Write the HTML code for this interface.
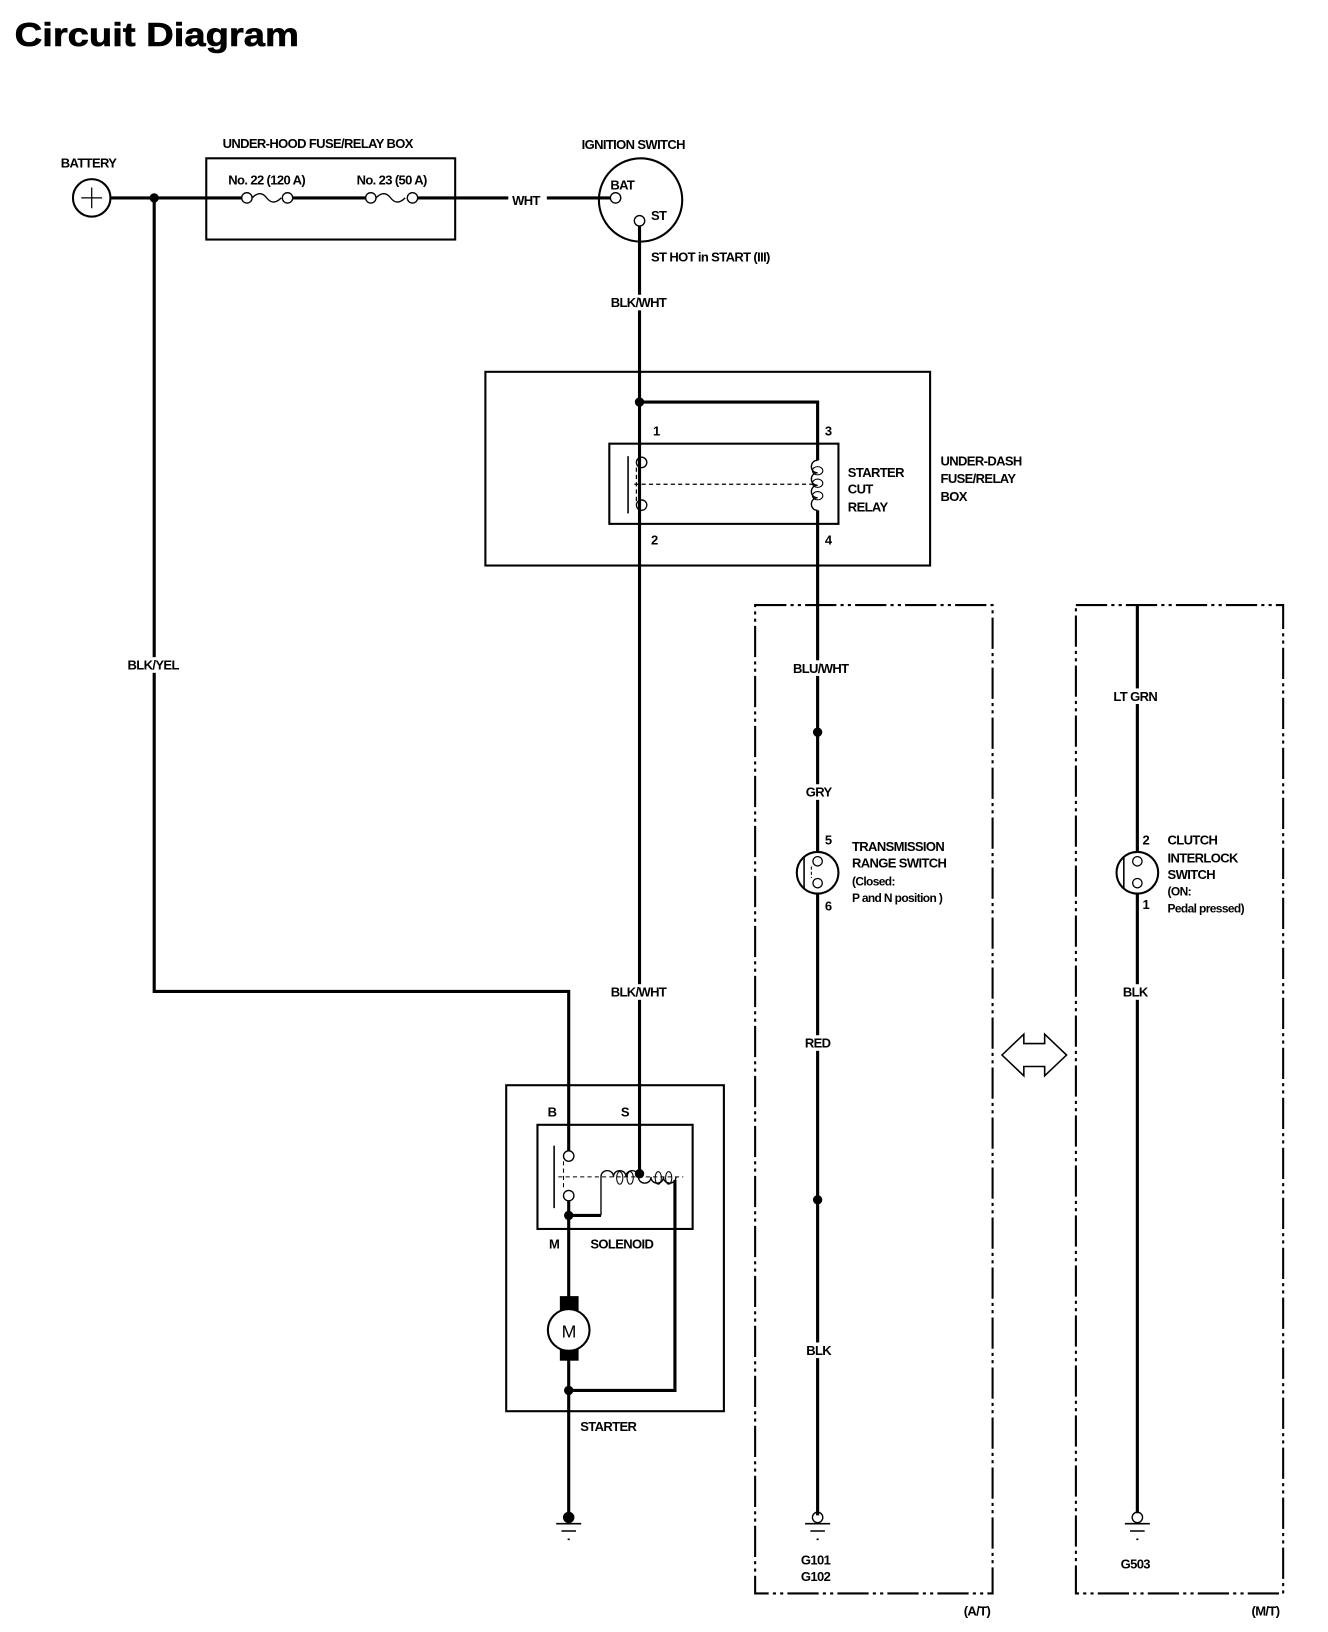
<!DOCTYPE html>
<html><head><meta charset="utf-8"><style>
html,body{margin:0;padding:0;background:#fff;}
svg{display:block;}
text{font-family:"Liberation Sans",sans-serif;font-weight:bold;fill:#000;}
.l{font-size:12.5px;letter-spacing:-0.6px;}
</style></head><body>
<svg width="1328" height="1632" viewBox="0 0 1275 1567" xmlns="http://www.w3.org/2000/svg">
<g stroke="#000" fill="none">
<text x="14" y="44" style="font-size:32px" textLength="273" lengthAdjust="spacingAndGlyphs" stroke="#000" stroke-width="0.6">Circuit Diagram</text>

<!-- battery -->
<circle cx="88" cy="190" r="18" stroke-width="2"/>
<path d="M78 190h20M88 180v20" stroke-width="1.2"/>
<path d="M106 190H232M281 190H351M401 190H490" stroke-width="3"/>
<circle cx="237" cy="190" r="5" stroke-width="1.3"/><circle cx="276" cy="190" r="5" stroke-width="1.3"/>
<path d="M242 190q8-8 14 0t14 0" stroke-width="1.3"/>
<circle cx="356" cy="190" r="5" stroke-width="1.3"/><circle cx="396" cy="190" r="5" stroke-width="1.3"/>
<path d="M361 190q8-8 14 0t14 0" stroke-width="1.3"/>
<path d="M525 190H586" stroke-width="3"/>
<circle cx="148" cy="190" r="4" fill="#000"/>
<path d="M148 190V952H546V1105" stroke-width="3"/>
<rect x="198" y="152" width="239" height="78" stroke-width="2"/>

<!-- ignition -->
<circle cx="615" cy="192" r="40" stroke-width="2"/>
<circle cx="591" cy="190" r="5" stroke-width="1.3"/>
<circle cx="614" cy="212" r="5" stroke-width="1.3"/>
<path d="M614 217V1127" stroke-width="3"/>

<!-- under-dash box -->
<rect x="466" y="357" width="427" height="186" stroke-width="2"/>
<circle cx="614" cy="386" r="4" fill="#000"/>
<path d="M614 386H785V442" stroke-width="3"/>
<rect x="585" y="426" width="220" height="77" stroke-width="2"/>
<circle cx="616" cy="444" r="5" stroke-width="1.3"/>
<circle cx="616" cy="485" r="5" stroke-width="1.3"/>
<path d="M603 438V493" stroke-width="1.5"/>
<path d="M609 465H780M611 449v32" stroke-width="1.2" stroke-dasharray="4 3"/>
<path d="M785 442c-8 0-8 12 0 12c-8 0-8 12 0 12c-8 0-8 12 0 12c-8 0-8 12 0 12" stroke-width="1.3"/>
<ellipse cx="785" cy="452" rx="5" ry="4" stroke-width="1"/>
<ellipse cx="785" cy="464" rx="5" ry="4" stroke-width="1"/>
<ellipse cx="785" cy="476" rx="5" ry="4" stroke-width="1"/>
<path d="M785 490V818M785 858V1455" stroke-width="3"/>
<circle cx="785" cy="703" r="4" fill="#000"/>
<circle cx="785" cy="1152" r="4" fill="#000"/>

<!-- A/T box -->
<rect x="725" y="581" width="228" height="949" stroke-width="2" stroke-dasharray="30 4 3 4 3 4"/>
<circle cx="785" cy="838" r="20" stroke-width="2"/>
<path d="M772 822V854" stroke-width="1.5"/>
<circle cx="785" cy="827" r="4.5" stroke-width="1.2" fill="#fff"/>
<circle cx="785" cy="848" r="4.5" stroke-width="1.2" fill="#fff"/>
<path d="M779 832v11" stroke-width="1" stroke-dasharray="3 2"/>
<circle cx="785" cy="1457" r="5" stroke-width="1.3"/>
<path d="M773 1463H797M778 1470H792M784 1478h2" stroke-width="1.5"/>

<!-- M/T box -->
<rect x="1033" y="581" width="199" height="949" stroke-width="2" stroke-dasharray="30 4 3 4 3 4"/>
<path d="M1092 581V818M1092 858V1453" stroke-width="3"/>
<circle cx="1092" cy="838" r="20" stroke-width="2"/>
<path d="M1079 822V854" stroke-width="1.5"/>
<circle cx="1092" cy="827" r="4.5" stroke-width="1.2" fill="#fff"/>
<circle cx="1092" cy="848" r="4.5" stroke-width="1.2" fill="#fff"/>
<circle cx="1092" cy="1457" r="5" stroke-width="1.3"/>
<path d="M1080 1463H1104M1085 1470H1099M1091 1478h2" stroke-width="1.5"/>

<!-- double arrow -->
<path d="M962 1013L983 993V1002H1003V993L1024 1013L1003 1033V1024H983V1033Z" stroke-width="1.5"/>

<!-- starter -->
<rect x="486" y="1042" width="209" height="313" stroke-width="2"/>
<rect x="516" y="1080" width="149" height="100" stroke-width="2"/>
<circle cx="546" cy="1110" r="5" stroke-width="1.3"/>
<circle cx="546" cy="1148" r="5" stroke-width="1.3"/>
<path d="M532 1100V1160" stroke-width="1.5"/>
<path d="M536 1130H656M541 1115v28" stroke-width="1" stroke-dasharray="4 3"/>
<path d="M577 1167V1130c0-8 12-8 12 0c0-8 12-8 12 0c0-8 12-8 12 0c0 8 12 8 12 0c0 8 12 8 12 0c0 8 12 8 12 0" stroke-width="1.3"/>
<ellipse cx="595" cy="1131" rx="3" ry="6" stroke-width="1"/>
<ellipse cx="605" cy="1131" rx="3" ry="6" stroke-width="1"/>
<ellipse cx="632" cy="1131" rx="3" ry="6" stroke-width="1"/>
<ellipse cx="642" cy="1131" rx="3" ry="6" stroke-width="1"/>
<circle cx="614" cy="1127" r="4" fill="#000"/>
<path d="M577 1167H546M546 1153V1245M648 1133V1335H546M546 1305V1455" stroke-width="3"/>
<circle cx="546" cy="1167" r="4" fill="#000"/>
<circle cx="546" cy="1335" r="4" fill="#000"/>
<rect x="538" y="1245" width="17" height="14" fill="#000"/>
<rect x="538" y="1292" width="17" height="14" fill="#000"/>
<circle cx="546" cy="1277" r="20" stroke-width="2" fill="#fff"/>
<circle cx="546" cy="1457" r="5" fill="#000"/>
<path d="M534 1463H558M539 1470H553M545 1478h2" stroke-width="1.5"/>
</g>

<!-- labels on wires (white bg) -->
<rect x="488" y="182" width="36" height="16" fill="#fff"/>
<rect x="583" y="283" width="60" height="15" fill="#fff"/>
<rect x="583" y="945" width="60" height="15" fill="#fff"/>
<rect x="118" y="631" width="56" height="15" fill="#fff"/>
<rect x="757" y="634" width="62" height="15" fill="#fff"/>
<rect x="771" y="753" width="30" height="15" fill="#fff"/>
<rect x="771" y="994" width="30" height="15" fill="#fff"/>
<rect x="772" y="1289" width="28" height="15" fill="#fff"/>
<rect x="1066" y="661" width="50" height="15" fill="#fff"/>
<rect x="1076" y="945" width="28" height="15" fill="#fff"/>

<g class="l">
<text x="85" y="161" text-anchor="middle">BATTERY</text>
<text x="305" y="142" text-anchor="middle">UNDER-HOOD FUSE/RELAY BOX</text>
<text x="256" y="177" text-anchor="middle">No. 22 (120 A)</text>
<text x="376" y="177" text-anchor="middle">No. 23 (50 A)</text>
<text x="505" y="197" text-anchor="middle">WHT</text>
<text x="608" y="143" text-anchor="middle">IGNITION SWITCH</text>
<text x="586" y="182">BAT</text>
<text x="625" y="211">ST</text>
<text x="625" y="251">ST HOT in START (III)</text>
<text x="613" y="295" text-anchor="middle">BLK/WHT</text>
<text x="627" y="418">1</text>
<text x="792" y="418">3</text>
<text x="625" y="523">2</text>
<text x="792" y="523">4</text>
<text x="814" y="458">STARTER</text>
<text x="814" y="474">CUT</text>
<text x="814" y="491">RELAY</text>
<text x="903" y="447">UNDER-DASH</text>
<text x="903" y="464">FUSE/RELAY</text>
<text x="903" y="481">BOX</text>
<text x="147" y="643" text-anchor="middle">BLK/YEL</text>
<text x="788" y="646" text-anchor="middle">BLU/WHT</text>
<text x="786" y="765" text-anchor="middle">GRY</text>
<text x="792" y="811">5</text>
<text x="792" y="874">6</text>
<text x="818" y="817">TRANSMISSION</text>
<text x="818" y="833">RANGE SWITCH</text>
<text x="818" y="850" style="font-size:11.5px">(Closed:</text>
<text x="818" y="866" style="font-size:11.5px">P and N position )</text>
<text x="785" y="1006" text-anchor="middle">RED</text>
<text x="786" y="1301" text-anchor="middle">BLK</text>
<text x="783" y="1502" text-anchor="middle">G101</text>
<text x="783" y="1518" text-anchor="middle">G102</text>
<text x="938" y="1551" text-anchor="middle">(A/T)</text>
<text x="1090" y="673" text-anchor="middle">LT GRN</text>
<text x="1097" y="811">2</text>
<text x="1097" y="873">1</text>
<text x="1121" y="811">CLUTCH</text>
<text x="1121" y="828">INTERLOCK</text>
<text x="1121" y="844">SWITCH</text>
<text x="1121" y="860" style="font-size:11.5px">(ON:</text>
<text x="1121" y="876" style="font-size:11.5px">Pedal pressed)</text>
<text x="1090" y="957" text-anchor="middle">BLK</text>
<text x="1090" y="1506" text-anchor="middle">G503</text>
<text x="1215" y="1551" text-anchor="middle">(M/T)</text>
<text x="613" y="957" text-anchor="middle">BLK/WHT</text>
<text x="530" y="1072" text-anchor="middle">B</text>
<text x="600" y="1072" text-anchor="middle">S</text>
<text x="532" y="1199" text-anchor="middle">M</text>
<text x="597" y="1199" text-anchor="middle">SOLENOID</text>
<text x="584" y="1374" text-anchor="middle">STARTER</text>
<text x="546" y="1284" text-anchor="middle" style="font-size:17px;font-weight:normal">M</text>
</g>
</svg>
</body></html>
